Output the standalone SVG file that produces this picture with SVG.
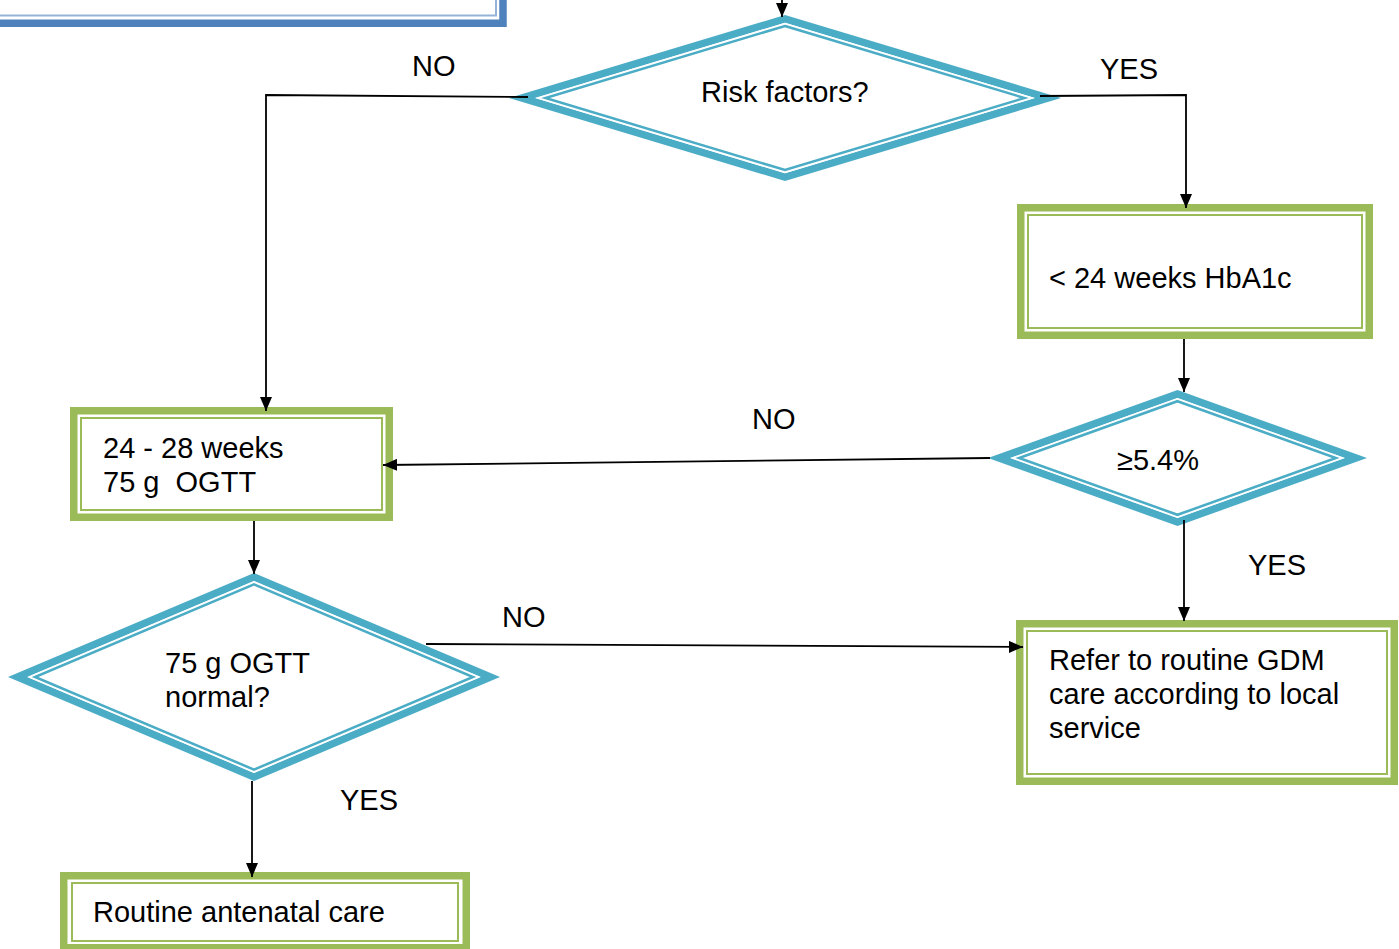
<svg xmlns="http://www.w3.org/2000/svg" width="1399" height="949" viewBox="0 0 1399 949">
<style>
text{font-family:"Liberation Sans",Arial,sans-serif;font-size:29px;fill:#000}
.band{fill:none;stroke:#9BBB59;stroke-width:7.5}
.thin{fill:none;stroke:#9BBB59;stroke-width:2}
.dband{fill:#4BACC6;fill-rule:evenodd;stroke:none}
.dthin{fill:none;stroke:#4BACC6;stroke-width:2.5}
.conn{fill:none;stroke:#000;stroke-width:1.8}
</style>
<defs>
<marker id="ah" viewBox="0 0 14 12" refX="14" refY="6" markerWidth="14" markerHeight="12" markerUnits="userSpaceOnUse" orient="auto">
<path d="M0,0 L14,6 L0,12 z" fill="#000"/>
</marker>
</defs>
<rect width="1399" height="949" fill="#fff"/>
<g id="header">
<rect x="-10" y="-10" width="513" height="33.25" fill="#fff" stroke="#4F81BD" stroke-width="7.5"/>
<rect x="-10" y="-10" width="506" height="25.5" fill="none" stroke="#95B3D7" stroke-width="2"/>
</g>
<g id="risk">
<path class="dband" d="M785,15 L1061,98 L785,181 L509,98 Z M785,22.8 L1034.9,98 L785,173.2 L535.1,98 Z"/>
<polygon points="785,22.8 1034.9,98 785,173.2 535.1,98" fill="#fff"/>
<polygon class="dthin" points="785,26 1024.5,98 785,170 545.5,98"/>
<text x="701" y="102">Risk factors?</text>
</g>
<g id="hba1c">
<rect class="band" x="1020.75" y="207.75" width="348.5" height="127.5" fill="#fff"/>
<rect class="thin" x="1028" y="215" width="334" height="113"/>
<text x="1049" y="288">&lt; 24 weeks HbA1c</text>
</g>
<g id="threshold">
<path class="dband" d="M1177.5,390 L1367,458 L1177.5,526 L988,458 Z M1177.5,398 L1344.8,458 L1177.5,518 L1010.2,458 Z"/>
<polygon points="1177.5,398 1344.8,458 1177.5,518 1010.2,458" fill="#fff"/>
<polygon class="dthin" points="1177.5,401.2 1335.9,458 1177.5,514.8 1019.1,458"/>
<text x="1117" y="470">≥5.4%</text>
</g>
<g id="ogtt">
<rect class="band" x="73.75" y="410.75" width="315.5" height="106.5" fill="#fff"/>
<rect class="thin" x="81" y="418" width="301" height="92"/>
<text x="103" y="458">24 - 28 weeks</text>
<text x="103" y="492" xml:space="preserve">75 g  OGTT</text>
</g>
<g id="normal">
<path class="dband" d="M254,573 L500,677 L254,781 L8,677 Z M254,581.1 L480.7,677 L254,772.9 L27.3,677 Z"/>
<polygon points="254,581.1 480.7,677 254,772.9 27.3,677" fill="#fff"/>
<polygon class="dthin" points="254,584.4 473,677 254,769.6 35,677"/>
<text x="165" y="673">75 g OGTT</text>
<text x="165" y="707">normal?</text>
</g>
<g id="gdm">
<rect class="band" x="1019.75" y="623.75" width="374.5" height="157.5" fill="#fff"/>
<rect class="thin" x="1027" y="631" width="360" height="143"/>
<text x="1049" y="670">Refer to routine GDM</text>
<text x="1049" y="704">care according to local</text>
<text x="1049" y="738">service</text>
</g>
<g id="routine">
<rect class="band" x="63.75" y="875.75" width="402.5" height="72" fill="#fff"/>
<rect class="thin" x="72" y="883" width="386" height="58"/>
<text x="93" y="922">Routine antenatal care</text>
</g>
<g id="connectors">
<path class="conn" d="M782,0 L782,17" marker-end="url(#ah)"/>
<path class="conn" d="M528,97 L266,95 L266,411" marker-end="url(#ah)"/>
<path class="conn" d="M1040,96 L1186,95 L1186,208" marker-end="url(#ah)"/>
<path class="conn" d="M1184,339 L1184,392" marker-end="url(#ah)"/>
<path class="conn" d="M990,458 L383,465" marker-end="url(#ah)"/>
<path class="conn" d="M1184,520 L1184,621" marker-end="url(#ah)"/>
<path class="conn" d="M254,521 L254,574" marker-end="url(#ah)"/>
<path class="conn" d="M426,644 L1023,647" marker-end="url(#ah)"/>
<path class="conn" d="M252,781 L252,877" marker-end="url(#ah)"/>
</g>
<g id="labels">
<text x="412" y="76">NO</text>
<text x="1100" y="79">YES</text>
<text x="752" y="429">NO</text>
<text x="1248" y="575">YES</text>
<text x="502" y="627">NO</text>
<text x="340" y="810">YES</text>
</g>
</svg>
